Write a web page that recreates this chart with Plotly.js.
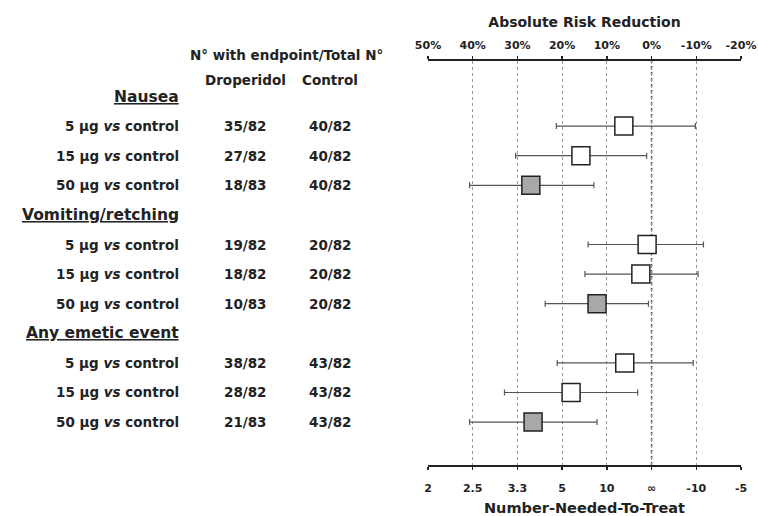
<!DOCTYPE html>
<html>
<head>
<meta charset="utf-8">
<script src="https://cdn.plot.ly/plotly-3.0.1.min.js"></script>
<style>html,body{margin:0;padding:0;background:#fff;}#chart{width:758px;height:516px;}</style>
</head>
<body>
<div id="chart"></div>
<script>
// ---- Data ----
const groups = ['Nausea', 'Vomiting/retching', 'Any emetic event'];
const doses = ['5 µg', '15 µg', '50 µg'];
const droperidolN = ['35/82', '27/82', '18/83', '19/82', '18/82', '10/83', '38/82', '28/82', '21/83'];
const controlN = ['40/82', '40/82', '40/82', '20/82', '20/82', '20/82', '43/82', '43/82', '43/82'];
const arr = [6.2, 15.8, 27.0, 1.0, 2.4, 12.2, 6.0, 18.0, 26.5];
const ciLow = [-9.8, 1.1, 12.9, -11.6, -10.4, 0.7, -9.3, 3.1, 12.2];
const ciHigh = [21.3, 30.4, 40.7, 14.2, 14.9, 23.8, 21.1, 32.9, 40.7];
const arrTicks = [50, 40, 30, 20, 10, 0, -10, -20];
const arrTickText = ['50%', '40%', '30%', '20%', '10%', '0%', '-10%', '-20%'];
const nntTickText = ['2', '2.5', '3.3', '5', '10', '∞', '-10', '-5'];

// ---- Styles ----
const doseFill = ['#ffffff', '#ffffff', '#a8a8a8'];
const FONT = 'DejaVu Sans, Verdana, sans-serif';
const TXT = '#222';
const PLOT_RIGHT = 741; // paper width in px (758 - right margin)
const px = v => v / PLOT_RIGHT;

// row index: group header at g*4, doses at g*4+1..3
const rowIdx = [], fills = [];
groups.forEach((g, gi) => doses.forEach((d, di) => { rowIdx.push(gi * 4 + 1 + di); fills.push(doseFill[di]); }));

const trace = {
  type: 'scatter', mode: 'markers', x: arr, y: rowIdx, xaxis: 'x', yaxis: 'y',
  marker: { symbol: 'square', size: 18, color: fills, line: { color: TXT, width: 1.5 } },
  error_x: {
    type: 'data', symmetric: false,
    array: ciHigh.map((h, i) => h - arr[i]),
    arrayminus: ciLow.map((l, i) => arr[i] - l),
    color: '#555', thickness: 1.2, width: 3
  },
  hoverinfo: 'skip', showlegend: false, cliponaxis: false
};
// invisible trace to activate top axis
const traceTop = { type: 'scatter', mode: 'markers', x: [0], y: [0], xaxis: 'x2', yaxis: 'y',
  marker: { opacity: 0 }, hoverinfo: 'skip', showlegend: false };

const annotations = [];
const lblFont = { family: FONT, size: 13.5, color: TXT, weight: 'bold' };
const base = { xref: 'paper', yref: 'y', showarrow: false, font: lblFont };
groups.forEach((g, gi) => {
  annotations.push(Object.assign({}, base, { x: px(181), y: gi * 4, xanchor: 'right', text: '<u>' + g + '</u>',
    font: { family: FONT, size: 15.5, color: TXT, weight: 'bold' } }));
  doses.forEach((d, di) => {
    const i = gi * 3 + di;
    annotations.push(Object.assign({}, base, { x: px(181), y: rowIdx[i], xanchor: 'right', text: d + ' <i>vs</i> control' }));
    annotations.push(Object.assign({}, base, { x: px(245), y: rowIdx[i], xanchor: 'center', text: droperidolN[i] }));
    annotations.push(Object.assign({}, base, { x: px(330), y: rowIdx[i], xanchor: 'center', text: controlN[i] }));
  });
});
annotations.push(Object.assign({}, base, { yref: 'paper', x: px(286), y: 1 + 6 / 404, xanchor: 'center', yanchor: 'middle', text: 'N° with endpoint/Total N°' }));
annotations.push(Object.assign({}, base, { x: px(245), y: -0.57, xanchor: 'center', text: 'Droperidol' }));
annotations.push(Object.assign({}, base, { x: px(330), y: -0.57, xanchor: 'center', text: 'Control' }));

const axisCommon = {
  domain: [428 / PLOT_RIGHT, 1], range: [50, -20], tickmode: 'array', tickvals: arrTicks,
  showline: true, linecolor: TXT, linewidth: 2, ticks: 'outside', ticklen: 3, tickwidth: 1.5, tickcolor: TXT,
  tickfont: { family: FONT, size: 11, color: TXT, weight: 'bold' }, zeroline: false, fixedrange: true
};

const layout = {
  width: 758, height: 516,
  margin: { l: 0, r: 17, t: 61, b: 51, pad: 0 },
  paper_bgcolor: '#fff', plot_bgcolor: '#fff',
  xaxis: Object.assign({}, axisCommon, {
    side: 'bottom', anchor: 'y', ticktext: nntTickText, ticklabelstandoff: 9,
    showgrid: true, griddash: '3px,3px', gridcolor: '#999', gridwidth: 1,
    title: { text: 'Number-Needed-To-Treat', standoff: 11, font: { family: FONT, size: 14.5, color: TXT, weight: 'bold' } }
  }),
  xaxis2: Object.assign({}, axisCommon, {
    side: 'top', anchor: 'y', overlaying: 'x', matches: 'x', ticktext: arrTickText, showgrid: false, ticklabelstandoff: 3,
    title: { text: 'Absolute Risk Reduction', standoff: 8, font: { family: FONT, size: 14, color: TXT, weight: 'bold' } }
  }),
  yaxis: { range: [12.45, -1.2], visible: false, fixedrange: true },
  shapes: [{ type: 'line', xref: 'x', yref: 'paper', x0: 0, x1: 0, y0: 0, y1: 1, layer: 'below',
    line: { color: '#444', width: 1.5, dash: 'dot' } }],
  annotations: annotations
};

Plotly.newPlot('chart', [trace, traceTop], layout, { staticPlot: true, displayModeBar: false });
</script>
</body>
</html>
